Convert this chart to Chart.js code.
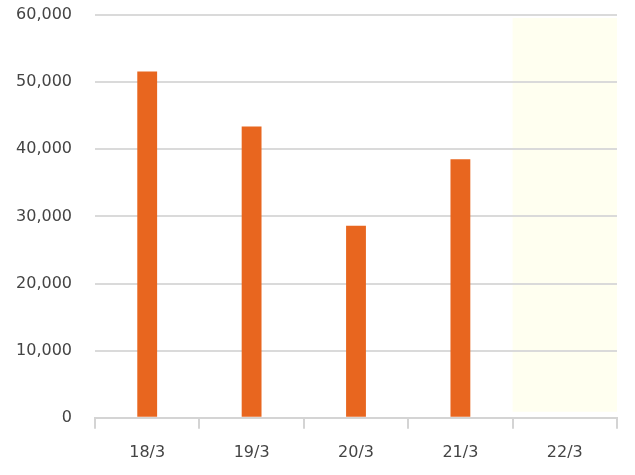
<!DOCTYPE html>
<html>
<head>
<meta charset="utf-8">
<script src="https://cdn.jsdelivr.net/npm/chart.js@4/dist/chart.umd.min.js"></script>
<style>
  html, body { margin: 0; padding: 0; background: #fff; }
  #wrap { width: 635px; height: 475px; }
</style>
</head>
<body>
<div id="wrap"><canvas id="myChart"></canvas></div>
<script>
const days = ['18/3', '19/3', '20/3', '21/3', '22/3']
const visits = [51600, 43400, 28600, 38500, null]
const highlightIndex = 4

// pale band behind the last (current) day, drawn under the grid
const bandPlugin = {
    id: 'band',
    beforeDraw(chart) {
        const x = chart.scales.x
        const area = chart.chartArea
        const half = (x.getPixelForValue(1) - x.getPixelForValue(0)) / 2
        const cx = x.getPixelForValue(highlightIndex)
        const ctx = chart.ctx
        ctx.save()
        ctx.fillStyle = '#fffff0'
        ctx.fillRect(cx - half, area.top + 3, half * 2, area.bottom - area.top - 9)
        ctx.restore()
    }
}

const ctx = document.getElementById('myChart')
new Chart(ctx, {
    type: 'bar',
    data: {
        labels: days,
        datasets: [{
            data: visits,
            backgroundColor: '#e8661f',
            borderWidth: 0,
            categoryPercentage: 1,
            barPercentage: 0.19
        }]
    },
    options: {
        responsive: true,
        maintainAspectRatio: false,
        animation: false,
        layout: {
            padding: { top: 15, right: 18, bottom: -1, left: 12 }
        },
        plugins: {
            legend: { display: false },
            tooltip: { enabled: false }
        },
        scales: {
            x: {
                grid: {
                    display: true,
                    drawOnChartArea: false,
                    offset: true,
                    tickLength: 11,
                    color: '#d4d4d4',
                    lineWidth: 2
                },
                border: { display: true, color: '#d4d4d4', width: 2 },
                ticks: {
                    color: '#444',
                    padding: 14,
                    font: { family: 'DejaVu Sans', size: 16 }
                }
            },
            y: {
                min: 0,
                max: 60000,
                afterFit: s => {
                    s.width = 83
                    s.paddingTop = 0
                    s.paddingBottom = 0
                },
                grid: {
                    drawTicks: false,
                    color: '#dadada',
                    lineWidth: 2
                },
                border: { display: false },
                ticks: {
                    stepSize: 10000,
                    color: '#444',
                    padding: 23,
                    font: { family: 'DejaVu Sans', size: 16 },
                    callback: v => v.toLocaleString('en-US')
                }
            }
        }
    },
    plugins: [bandPlugin]
})
</script>
</body>
</html>
